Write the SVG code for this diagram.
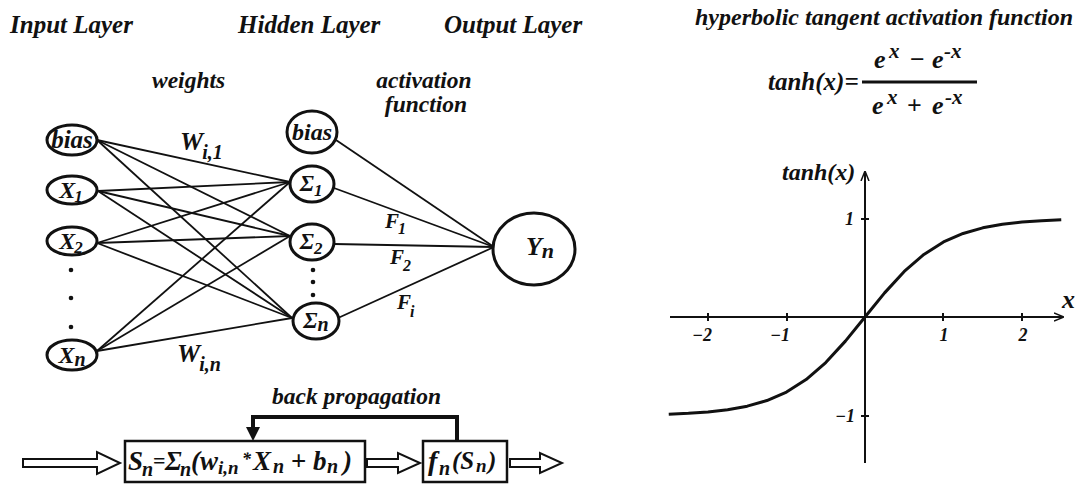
<svg xmlns="http://www.w3.org/2000/svg" width="1080" height="484" viewBox="0 0 1080 484">
<defs>
<style>
.t { font-family: "Liberation Serif", "DejaVu Serif", serif; font-weight: bold; font-style: italic; fill: #111; }
.up { font-style: normal; }
.node { fill: #fff; stroke: #111; stroke-width: 3; }
.conn { stroke: #111; stroke-width: 1.8; fill: none; }
.dot { fill: #111; }
.box { fill: #fff; stroke: #111; stroke-width: 2.5; }
.hollow { fill: #fff; stroke: #111; stroke-width: 2; stroke-linejoin: miter; }
.axis { stroke: #111; stroke-width: 2; fill: none; }
</style>
<marker id="axarrow" viewBox="0 0 10 10" refX="9" refY="5" markerWidth="10" markerHeight="10" markerUnits="userSpaceOnUse" orient="auto">
<path d="M0,1 L10,5 L0,9" fill="none" stroke="#111" stroke-width="1.5"/>
</marker>
</defs>
<rect width="1080" height="484" fill="#fff"/>

<!-- headers -->
<text class="t" x="10" y="33" font-size="25">Input Layer</text>
<text class="t" x="238" y="33" font-size="25">Hidden Layer</text>
<text class="t" x="444" y="33" font-size="25">Output Layer</text>
<text class="t" x="152" y="88" font-size="23.5">weights</text>
<text class="t" x="424" y="88" font-size="23.5" text-anchor="middle">activation</text>
<text class="t" x="426" y="112" font-size="23.5" text-anchor="middle">function</text>

<!-- connectors -->
<g id="connectors">
<line class="conn" x1="97" y1="140" x2="290" y2="182"/>
<line class="conn" x1="97" y1="140" x2="290" y2="236"/>
<line class="conn" x1="97" y1="140" x2="292" y2="318"/>
<line class="conn" x1="98" y1="191" x2="290" y2="182"/>
<line class="conn" x1="98" y1="191" x2="290" y2="236"/>
<line class="conn" x1="98" y1="191" x2="292" y2="318"/>
<line class="conn" x1="97" y1="243" x2="290" y2="182"/>
<line class="conn" x1="97" y1="243" x2="290" y2="236"/>
<line class="conn" x1="97" y1="243" x2="292" y2="318"/>
<line class="conn" x1="97" y1="351" x2="290" y2="182"/>
<line class="conn" x1="97" y1="351" x2="290" y2="236"/>
<line class="conn" x1="97" y1="351" x2="292" y2="318"/>
<line class="conn" x1="336" y1="140" x2="494" y2="247"/>
<line class="conn" x1="334" y1="188" x2="494" y2="247"/>
<line class="conn" x1="334" y1="244" x2="494" y2="247"/>
<line class="conn" x1="338" y1="318" x2="494" y2="247"/>
<!-- back propagation feedback -->
<path d="M457,441 V417 H253 V428" fill="none" stroke="#111" stroke-width="4"/>
<polygon points="246,427 260,427 253,441" fill="#111"/>
<!-- hollow arrows -->
<polygon class="hollow" points="23,459 97,459 97,452 120,463 97,474 97,467 23,467"/>
<polygon class="hollow" points="367,459 398,459 398,453 420,463 398,473 398,467 367,467"/>
<polygon class="hollow" points="510,459 540,459 540,453 562,463 540,473 540,467 510,467"/>
</g>

<!-- weight labels -->
<text class="t" x="180" y="150" font-size="26">W<tspan font-size="20" dx="-1" dy="9">i,1</tspan></text>
<text class="t" x="177" y="362" font-size="26">W<tspan font-size="20" dx="-1" dy="9">i,n</tspan></text>
<text class="t" x="385" y="228" font-size="21">F<tspan font-size="16" dx="-1" dy="6">1</tspan></text>
<text class="t" x="390" y="264" font-size="21">F<tspan font-size="16" dx="-1" dy="7">2</tspan></text>
<text class="t" x="397" y="309" font-size="21">F<tspan font-size="16" dx="-1" dy="8">i</tspan></text>

<!-- input layer -->
<g id="in-bias"><ellipse class="node" cx="72" cy="140" rx="25" ry="15"/><text class="t" x="72" y="148" font-size="25" text-anchor="middle">bias</text></g>
<g id="in-x1"><ellipse class="node" cx="72" cy="190" rx="25" ry="14"/><text class="t" x="71" y="198" font-size="24" text-anchor="middle">X<tspan font-size="17" dx="-1" dy="4">1</tspan></text></g>
<g id="in-x2"><ellipse class="node" cx="72" cy="241" rx="25" ry="14"/><text class="t" x="71" y="249" font-size="24" text-anchor="middle">X<tspan font-size="17" dx="-1" dy="4">2</tspan></text></g>
<g id="in-dots"><circle class="dot" cx="71" cy="270" r="2.3"/><circle class="dot" cx="71" cy="298" r="2.3"/><circle class="dot" cx="71" cy="327" r="2.3"/></g>
<g id="in-xn"><ellipse class="node" cx="72" cy="355" rx="25" ry="15"/><text class="t" x="72" y="363" font-size="24" text-anchor="middle">X<tspan font-size="20" dy="3">n</tspan></text></g>

<!-- hidden layer -->
<g id="h-bias"><ellipse class="node" cx="312" cy="132" rx="25" ry="21"/><text class="t" x="312" y="140" font-size="24" text-anchor="middle">bias</text></g>
<g id="h-s1"><ellipse class="node" cx="312" cy="184" rx="22" ry="18"/><text class="t" x="311" y="191" font-size="23" text-anchor="middle">Σ<tspan font-size="17" dy="5">1</tspan></text></g>
<g id="h-s2"><ellipse class="node" cx="312" cy="242" rx="22" ry="18"/><text class="t" x="311" y="249" font-size="23" text-anchor="middle">Σ<tspan font-size="17" dy="5">2</tspan></text></g>
<g id="h-dots"><circle class="dot" cx="313" cy="270" r="2.3"/><circle class="dot" cx="313" cy="282" r="2.3"/><circle class="dot" cx="313" cy="295" r="2.3"/></g>
<g id="h-sn"><ellipse class="node" cx="316" cy="321" rx="23" ry="18"/><text class="t" x="316" y="328" font-size="23" text-anchor="middle">Σ<tspan font-size="20" dy="3">n</tspan></text></g>

<!-- output layer -->
<g id="out-yn"><ellipse class="node" cx="534" cy="249" rx="41" ry="36"/><text class="t" x="540" y="255" font-size="26" text-anchor="middle">Y<tspan font-size="22" dy="3">n</tspan></text></g>

<!-- bottom flow -->
<text class="t" x="272" y="404" font-size="23.5">back propagation</text>
<g id="sum-box"><rect class="box" x="125" y="441" width="240" height="41"/>
<text class="t" font-size="27"><tspan x="128" y="470">S</tspan><tspan x="142" y="476" font-size="20">n</tspan><tspan x="153" y="468" font-size="22" class="up">=</tspan><tspan x="165" y="470">Σ</tspan><tspan x="180" y="476" font-size="20">n</tspan><tspan x="191" y="470">(w</tspan><tspan x="218" y="474" font-size="19">i,n</tspan><tspan x="242" y="465" font-size="18">*</tspan><tspan x="253" y="470">X</tspan><tspan x="273" y="473" font-size="20">n</tspan><tspan x="291" y="470" class="up">+</tspan><tspan x="313" y="470">b</tspan><tspan x="327" y="473" font-size="20">n</tspan><tspan x="343" y="470">)</tspan></text></g>
<g id="act-box"><rect class="box" x="423" y="441" width="84" height="41"/>
<text class="t" font-size="28"><tspan x="428" y="470">f</tspan><tspan x="439" y="475" font-size="20">n</tspan><tspan x="452" y="469" font-size="25">(S</tspan><tspan x="476" y="472" font-size="19">n</tspan><tspan x="488" y="469" font-size="25">)</tspan></text></g>

<!-- right: title + formula -->
<text class="t" x="1073" y="25" font-size="24" text-anchor="end">hyperbolic tangent  activation function</text>
<text class="t" x="768" y="90" font-size="25">tanh(x)=</text>
<line x1="862" y1="82" x2="977" y2="82" stroke="#111" stroke-width="3"/>
<text class="t" x="874" y="68" font-size="26">e</text>
<text class="t" x="889" y="58" font-size="21">x</text>
<text class="t up" x="910" y="68" font-size="26">−</text>
<text class="t" x="932" y="68" font-size="26">e</text>
<text class="t" x="944" y="58" font-size="21">-x</text>
<text class="t" x="872" y="114" font-size="26">e</text>
<text class="t" x="887" y="104" font-size="21">x</text>
<text class="t up" x="907" y="114" font-size="26">+</text>
<text class="t" x="932" y="114" font-size="26">e</text>
<text class="t" x="945" y="104" font-size="21">-x</text>

<!-- graph -->
<line class="axis" x1="865" y1="463" x2="865" y2="172" marker-end="url(#axarrow)"/>
<line class="axis" x1="670" y1="317" x2="1063" y2="317" marker-end="url(#axarrow)"/>
<g stroke="#111" stroke-width="2">
<line x1="708" y1="313" x2="708" y2="321"/>
<line x1="787" y1="313" x2="787" y2="321"/>
<line x1="943" y1="313" x2="943" y2="321"/>
<line x1="1022" y1="313" x2="1022" y2="321"/>
<line x1="861" y1="219" x2="869" y2="219"/>
<line x1="861" y1="416" x2="869" y2="416"/>
</g>
<path d="M668.75,414.18 L688.4,413.34 L708,411.96 L727.6,409.73 L747.25,406.16 L766.9,400.56 L786.5,392.02 L806.1,379.56 L825.75,362.52 L845.4,341.12 L865,317 L884.6,292.88 L904.25,271.48 L923.9,254.44 L943.5,241.98 L963.1,233.44 L982.75,227.84 L1002.4,224.27 L1022,222.04 L1041.6,220.66 L1061.25,219.82" fill="none" stroke="#111" stroke-width="3" stroke-linejoin="round"/>
<text class="t" x="782" y="180" font-size="24">tanh(x)</text>
<text class="t" x="854" y="225" font-size="18" text-anchor="end">1</text>
<text class="t" x="855" y="422" font-size="18" text-anchor="end">−1</text>
<text class="t" x="702" y="341" font-size="18" text-anchor="middle">−2</text>
<text class="t" x="780" y="341" font-size="18" text-anchor="middle">−1</text>
<text class="t" x="944" y="341" font-size="18" text-anchor="middle">1</text>
<text class="t" x="1023" y="341" font-size="18" text-anchor="middle">2</text>
<text class="t" x="1062" y="308" font-size="26">x</text>
</svg>
